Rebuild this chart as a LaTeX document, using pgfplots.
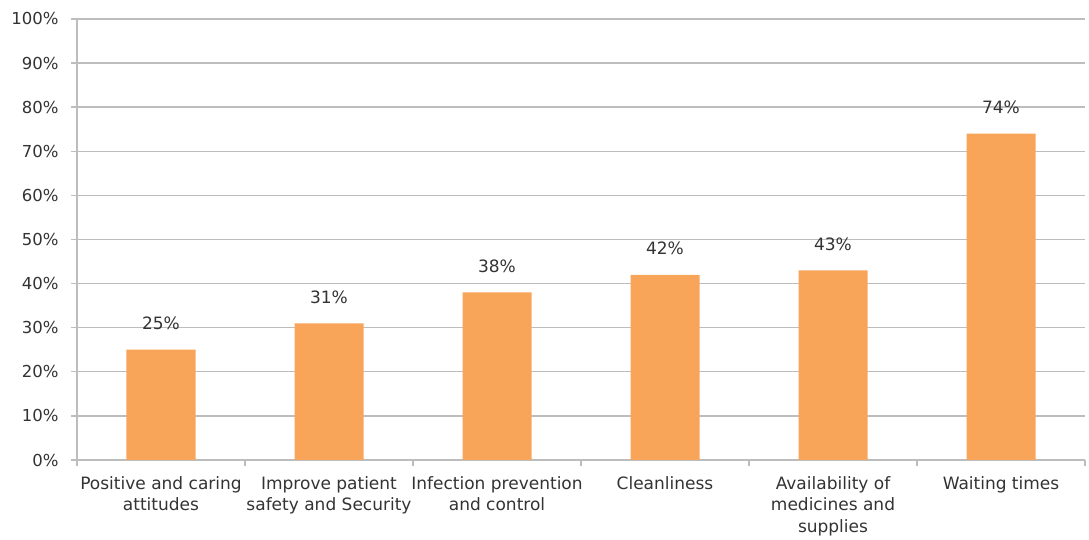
\documentclass[border=0pt]{standalone}
\usepackage{pgfplots}
\pgfplotsset{compat=1.18}
\usepackage{fontspec}
\setmainfont{DejaVu Sans}
\definecolor{barc}{HTML}{F8A55A}
\definecolor{gridc}{HTML}{BDBDBD}
\definecolor{txt}{HTML}{333333}
\begin{document}
\begin{tikzpicture}
\begin{axis}[name=ax,
  scale only axis, width=1008pt, height=441pt,
  xmin=-0.5, xmax=5.5, ymin=0, ymax=100,
  axis x line*=bottom, axis y line*=left,
  axis line style={gridc, line width=1.4pt, -},
  ytick={0,10,...,100},
  yticklabel={\pgfmathprintnumber{\tick}\%},
  /pgf/number format/assume math mode=true,
  ymajorgrids, major grid style={gridc, line width=1.4pt},
  y tick style={gridc, line width=1.4pt},
  tick align=outside, major tick length=6pt,
  xtick={0,1,2,3,4,5},
  x tick style={draw=none},
  extra x ticks={-0.5,0.5,1.5,2.5,3.5,4.5,5.5},
  extra x tick labels={},
  extra x tick style={x tick style={draw=gridc, line width=1.4pt}, xmajorgrids=false},
  xticklabels={{Positive and caring\\attitudes},{Improve patient\\safety and Security},{Infection prevention\\and control},{Cleanliness},{Availability of\\medicines and\\supplies},{Waiting times}},
  xticklabel style={align=center, font=\fontsize{17}{21.5}\selectfont, text=txt, anchor=north, yshift=-7pt},
  yticklabel style={font=\fontsize{16.5}{20}\selectfont, text=txt, xshift=-9pt},
  ybar, bar width=69pt,
  nodes near coords={\pgfmathprintnumber{\pgfplotspointmeta}\%},
  nodes near coords style={font=\fontsize{17}{20}\selectfont, text=txt, anchor=base, yshift=20pt},
  point meta=explicit,
]
\addplot[fill=barc, draw=none] coordinates {(0,25)[25] (1,31)[31] (2,38)[38] (3,42)[42] (4,43)[43] (5,74)[74]};
\end{axis}
\path ([xshift=-77pt,yshift=-75pt]ax.south west) rectangle ++(1089pt,535pt);
\end{tikzpicture}
\end{document}
